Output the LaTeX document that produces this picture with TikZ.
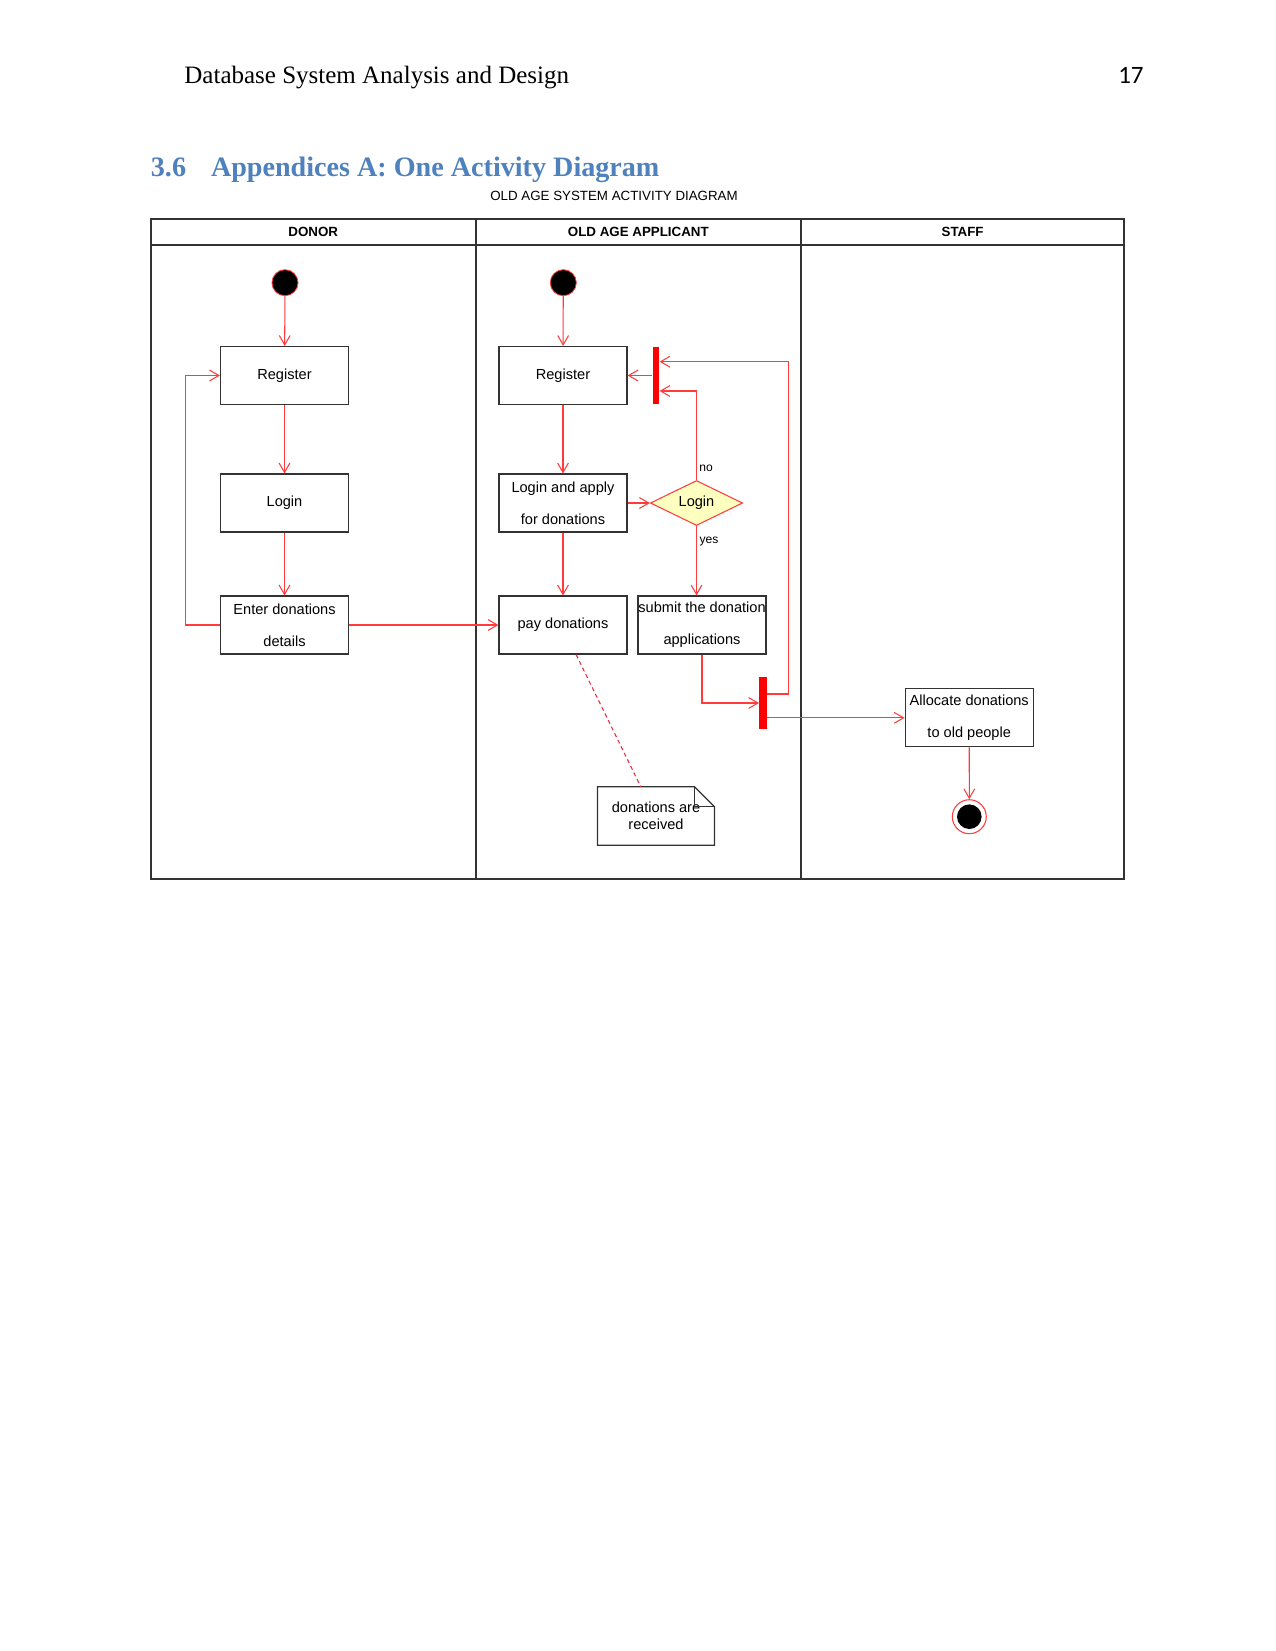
\documentclass[tikz,border=0pt]{standalone}
\usepackage{fontspec}
\setmainfont{Liberation Sans}
\newfontfamily\hdserif{Liberation Serif}
\newfontfamily\calib{Carlito}
\usetikzlibrary{arrows.meta,shapes.geometric,calc}
\definecolor{lred}{HTML}{FF3B3B}
\definecolor{titleblue}{HTML}{4F81BD}
\definecolor{dgrey}{HTML}{333333}
\definecolor{lyellow}{HTML}{FFFFC0}
\begin{document}
\begin{tikzpicture}[x=0.48pt,y=-0.48pt,
  act/.style={draw=dgrey,line width=0.6pt,minimum width=61.4pt,minimum height=27.8pt,inner sep=0pt,font=\fontsize{7}{15.4}\selectfont,align=center},
  flow/.style={draw=lred,line width=0.5pt,-{Straight Barb[length=4.5pt,width=5.2pt]}},
  plain/.style={draw=lred,line width=0.5pt},
  startc/.style={circle,fill=black,draw=lred,line width=0.4pt,minimum size=12.5pt,inner sep=0pt},
  barc/.style={fill=red,minimum width=3pt,inner sep=0pt},
  lane/.style={draw=dgrey,line width=0.8pt},
  lanelbl/.style={font=\fontsize{6.4}{8}\selectfont\bfseries},
  guard/.style={font=\fontsize{5.8}{7}\selectfont,inner sep=0pt}]
\fill[white] (0,0) rectangle (1275,1651);
\useasboundingbox (0,0) rectangle (1275,1651);
% page header
\node[anchor=base west,inner sep=0pt,font=\hdserif\fontsize{12}{14}\selectfont] (hdr) at (184,83.5) {Database System Analysis and Design};
\node[anchor=base east,inner sep=0pt,font=\calib\fontsize{12}{14}\selectfont] (pgn) at (1144,83.5) {17};
\node[anchor=base west,inner sep=0pt,text=titleblue,font=\hdserif\bfseries\fontsize{13.5}{16}\selectfont] (secnum) at (150.5,177) {3.6};
\node[anchor=base west,inner sep=0pt,text=titleblue,font=\hdserif\bfseries\fontsize{13.5}{16}\selectfont] (sectitle) at (210.6,177) {Appendices A: One Activity Diagram};
\node[inner sep=0pt,font=\fontsize{6.4}{8}\selectfont] (dtitle) at (614,196) {OLD AGE SYSTEM ACTIVITY DIAGRAM};
% swimlanes
\draw[lane] (151,219) rectangle (1124.3,879.3);
\draw[lane] (151,245) -- (1124.3,245);
\draw[lane] (475.7,219) -- (475.7,879.3);
\draw[lane] (801,219) -- (801,879.3);
\node[lanelbl] (l1) at (313.3,232) {DONOR};
\node[lanelbl] (l2) at (638.3,232) {OLD AGE APPLICANT};
\node[lanelbl] (l3) at (962.6,232) {STAFF};
% donor lane
\node[startc] (s1) at (285,282.7) {};
\node[act] (reg1) at (284.5,375.5) {Register};
\node[act] (log1) at (284.5,503) {Login};
\node[act] (ent1) at (284.5,625) {Enter donations\\details};
% applicant lane
\node[startc] (s2) at (563.3,282.7) {};
\node[act] (reg2) at (563,375.5) {Register};
\node[act] (lap) at (563,503) {Login and apply\\for donations};
\node[act] (pay) at (563,625) {pay donations};
\node[act] (sub) at (702,625) {submit the donation\\applications};
\node[diamond,draw=lred,fill=lyellow,line width=0.5pt,aspect=2,minimum width=44.3pt,minimum height=21.6pt,inner sep=0pt,font=\fontsize{7}{8}\selectfont] (dec) at (696.5,503) {Login};
\node[barc,minimum height=27.8pt] (b1) at (656,375.5) {};
\node[barc,minimum height=25.2pt,minimum width=3.4pt] (b2) at (763,703) {};
\node[guard] (no) at (706,468) {no};
\node[guard] (yes) at (709,541.7) {yes};
\node[minimum width=55.8pt,minimum height=27.7pt,inner sep=0pt,align=center,font=\fontsize{7}{8.2}\selectfont] (note) at (656,816) {donations are\\received};
\draw[draw=dgrey,line width=0.6pt] (note.north west) -- ($(note.north east)+(-20,0)$) -- ($(note.north east)+(0,20)$) -- (note.south east) -- (note.south west) -- cycle;
\draw[draw=dgrey,line width=0.5pt] ($(note.north east)+(-20,0)$) -- ($(note.north east)+(-20,20)$) -- ($(note.north east)+(0,20)$);
% staff lane
\node[act] (alloc) at (969.2,717.8) {Allocate donations\\to old people};
\node[circle,draw=lred,fill=white,line width=0.5pt,minimum size=16.3pt,inner sep=0pt] (fin) at (969.3,816.7) {};
\node[circle,fill=black,minimum size=11.8pt,inner sep=0pt] (fincore) at (fin) {};
% flows
\draw[flow] (s1) -- (reg1);
\draw[flow] (reg1) -- (log1);
\draw[flow] (log1) -- (ent1);
\draw[flow] (ent1.west) -- ++(-34.6,0) |- (reg1.west);
\draw[flow] (ent1.east) -- (pay.west);
\draw[flow] (s2) -- (reg2);
\draw[flow] (reg2) -- (lap);
\draw[flow] (lap) -- (pay);
\draw[flow] (lap.east) -- (dec.west);
\draw[flow] (dec.north) |- ($(b1.east)+(0,15.5)$);
\draw[flow] (b1.west) -- (reg2.east);
\draw[flow] (dec.south) -- (dec.south |- sub.north);
\draw[flow] (sub.south) |- (b2.west);
\draw[flow] ($(b2.east)+(0,-9)$) -- ++(22,0) |- ($(b1.east)+(0,-13.8)$);
\draw[flow] (b2.east |- alloc.west) -- (alloc.west);
\draw[flow] (alloc) -- (fin);
\draw[draw=lred!70!purple,line width=0.5pt,dash pattern=on 2pt off 1.5pt] ($(pay.south west)+(77.7,0)$) -- ($(note.north west)+(43.3,0)$);
\end{tikzpicture}
\end{document}
